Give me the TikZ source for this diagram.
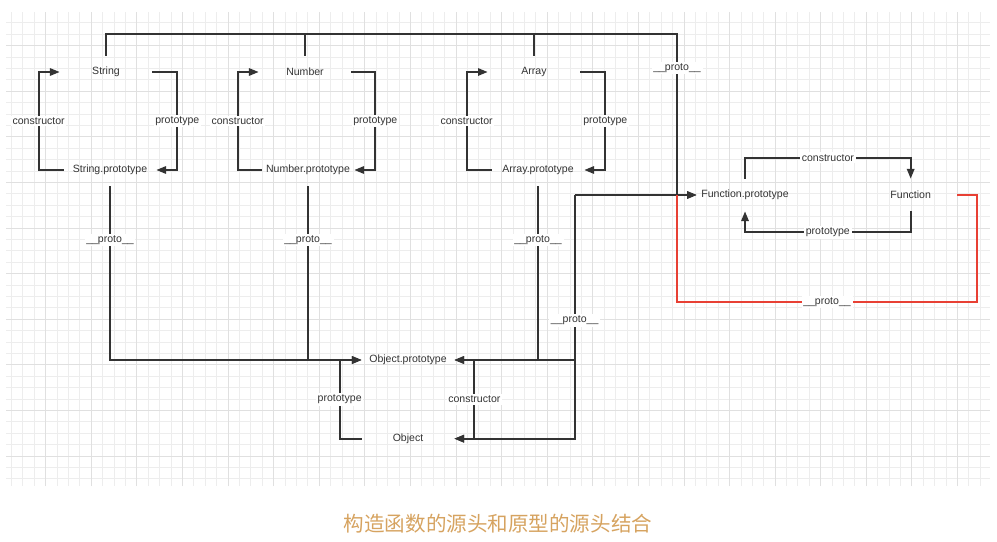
\documentclass[tikz,border=0pt]{standalone}
\usepackage{fontspec}
\setmainfont{Liberation Sans}
\newfontfamily\cjk{Noto Sans CJK SC}
\usetikzlibrary{positioning, arrows.meta}
\definecolor{linegray}{RGB}{51,51,51}
\definecolor{protored}{RGB}{232,64,52}
\definecolor{captiongold}{RGB}{214,163,96}

\begin{document}
\begin{tikzpicture}[
    x=0.02cm, y=-0.02cm,
    font=\fontsize{6}{7}\selectfont,
    text=linegray,
    obj/.style={
        minimum width=1.84cm, minimum height=0.64cm,
        inner sep=0pt, align=center
    },
    lbl/.style={fill=white, inner sep=1pt, text=linegray},
    link/.style={draw=linegray, line width=1pt},
    ptr/.style={link, -{Triangle[length=5.5pt, width=4.2pt]}},
    redlink/.style={draw=protored, line width=1pt}
]
\useasboundingbox (0,0) rectangle (997,541);

% Grid paper
\draw[black!7, line width=0.4pt, step=0.228cm] (6,12) grid (990,486);
\draw[black!12, line width=0.4pt, step=0.912cm] (6,12) grid (990,486);

% Constructors and their prototypes
\node[obj] (str) at (106,72) {String};
\node[obj] (strproto) at (110,170) {String.prototype};
\node[obj] (num) at (305,72) {Number};
\node[obj] (numproto) at (308,170) {Number.prototype};
\node[obj] (arr) at (534,72) {Array};
\node[obj] (arrproto) at (538,170) {Array.prototype};

% Function
\node[obj, minimum width=1.92cm] (fnproto) at (745,195) {Function.prototype};
\node[obj, right=1.42cm of fnproto] (fn) {Function};

% Object
\node[obj] (objproto) at (408,360) {Object.prototype};
\node[obj, below=0.92cm of objproto] (obj) {Object};

% Top bus: __proto__ of the constructors
\coordinate (bus) at (677,34);
\draw[ptr] (str.north) |- (bus) -- node[lbl, pos=0.21] {\_\_proto\_\_} (bus |- fnproto.west) -- (fnproto.west);
\draw[link] (num.north) -- (num.north |- bus);
\draw[link] (arr.north) -- (arr.north |- bus);

% constructor / prototype pairs
\draw[ptr] (strproto.west) -- ++(-25,0) |- node[lbl, pos=0.25] {constructor} (str.west);
\draw[ptr] (str.east) -- ++(25,0) |- node[lbl, pos=0.25] {prototype} (strproto.east);
\draw[ptr] (numproto.west) -- ++(-24,0) |- node[lbl, pos=0.25] {constructor} (num.west);
\draw[ptr] (num.east) -- ++(24,0) |- node[lbl, pos=0.25] {prototype} (numproto.east);
\draw[ptr] (arrproto.west) -- ++(-25,0) |- node[lbl, pos=0.25] {constructor} (arr.west);
\draw[ptr] (arr.east) -- ++(25,0) |- node[lbl, pos=0.25] {prototype} (arrproto.east);

% Prototypes down to Object.prototype
\draw[ptr] (strproto.south) |- node[lbl, pos=0.155] {\_\_proto\_\_} (objproto.west);
\draw[link] (numproto.south) -- node[lbl, pos=0.31] {\_\_proto\_\_} (numproto.south |- objproto.west);
\draw[ptr] (arrproto.south) |- node[lbl, pos=0.155] {\_\_proto\_\_} (objproto.east);

% Object and Object.prototype
\draw[ptr] (obj.west) -- ++(-22,0) |- node[lbl, pos=0.25] {prototype} (objproto.west);
\draw[ptr] ([xshift=0.4cm]objproto.east) |- node[lbl, pos=0.25] {constructor} (obj.east);

% Function.prototype joined to Object side
\coordinate (fnjoin) at ([xshift=-2.44cm]fnproto.west);
\draw[ptr] (fnjoin) -- (fnproto.west);
\draw[ptr] (fnjoin) |- node[lbl, pos=0.257] {\_\_proto\_\_} (obj.east);
\draw[ptr] (fnjoin |- objproto.east) -- (objproto.east);

% Function and Function.prototype
\draw[ptr] (fnproto.north) -- ++(0,-21) -| node[lbl, pos=0.25] {constructor} (fn.north);
\draw[ptr] (fn.south) -- ++(0,21) -| node[lbl, pos=0.25] {prototype} (fnproto.south);
\draw[redlink] (fn.east) -- ++(20,0) |- node[lbl, pos=0.75] {\_\_proto\_\_} (bus |- 0,302) -- (bus |- fnproto.west);

% Caption
\node[font=\cjk\fontsize{11.7}{14}\selectfont, text=captiongold] (caption) at (498,524) {构造函数的源头和原型的源头结合};

\end{tikzpicture}
\end{document}
